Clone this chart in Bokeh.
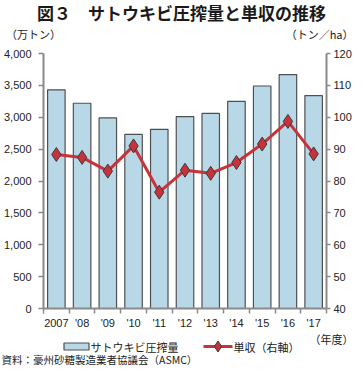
from bokeh.plotting import figure
from bokeh.layouts import column
from bokeh.models import (Range1d, LinearAxis, FixedTicker, NumeralTickFormatter, Label)
from bokeh.embed import file_html
from bokeh.resources import INLINE

years = ["2007", "'08", "'09", "'10", "'11", "'12", "'13", "'14", "'15", "'16", "'17"]
crush = [3430, 3220, 2990, 2730, 2810, 3010, 3060, 3250, 3490, 3670, 3340]   # 万トン
unit_yield = [88.3, 87.4, 83.1, 91.0, 76.5, 83.4, 82.4, 85.8, 91.6, 98.7, 88.5]  # トン/ha
left_ticks = list(range(0, 4001, 500))
right_ticks = list(range(40, 121, 10))

title_text = "図３　サトウキビ圧搾量と単収の推移"
bar_name = "サトウキビ圧搾量"
line_name = "単収（右軸）"
left_unit = "（万トン）"
right_unit = "（トン／ha）"
x_unit = "（年度）"
source_text = "資料：豪州砂糖製造業者協議会（ASMC）"

JP = "Noto Sans CJK JP"
NUM = "Liberation Sans"
AX = "#8a8a8a"
TXT = "#1a1a1a"
BAR_FILL = "#b8d8e7"
BAR_LINE = "#4f4f4f"
RED = "#c8333b"
MK_LINE = "#3a3a3a"
W = 354
TOP_H = 46
MAIN_H = 285
BOT_H = 367 - TOP_H - MAIN_H

n = len(years)
xs = [i + 0.5 for i in range(n)]


def blank(h):
    f = figure(width=W, height=h, x_range=Range1d(0, W), y_range=Range1d(0, h),
               output_backend="svg", toolbar_location=None,
               x_axis_location=None, y_axis_location=None,
               min_border=0, outline_line_color=None)
    f.xgrid.visible = False
    f.ygrid.visible = False
    if "frame_align" in f.properties():
        f.frame_align = False
    return f


def lab(fig, text, x, y, size="11px", bold=False, align="center"):
    fig.add_layout(Label(x=x, y=y, text=text, text_font=JP, text_font_size=size,
                         text_font_style="bold" if bold else "normal",
                         text_align=align, text_baseline="middle", text_color=TXT))


# ---------- header ----------
top = blank(TOP_H)
lab(top, title_text, 181, TOP_H - 12, size="17px", bold=True)
lab(top, left_unit, 33, TOP_H - 33)
lab(top, right_unit, 353, TOP_H - 33, align="right")

# ---------- main chart ----------
p = figure(width=W, height=MAIN_H, x_range=Range1d(0, n), y_range=Range1d(0, 4000),
           output_backend="svg", toolbar_location=None,
           min_border_left=40, min_border_right=22, min_border_top=7, min_border_bottom=0)
if "frame_align" in p.properties():
    p.frame_align = False
p.extra_y_ranges = {"r": Range1d(40, 120)}
p.outline_line_color = None
p.xgrid.visible = False
p.ygrid.visible = False

p.vbar(x=xs, top=crush, width=0.68, bottom=0, fill_color=BAR_FILL,
       line_color=BAR_LINE, line_width=1.2)
p.line(x=xs, y=unit_yield, y_range_name="r", line_color=RED, line_width=3)
p.scatter(x=xs, y=unit_yield, y_range_name="r", marker="diamond", size=14,
          fill_color=RED, line_color=MK_LINE, line_width=1)

xa = p.xaxis[0]
xa.ticker = FixedTicker(ticks=xs, minor_ticks=list(range(n + 1)))
xa.major_label_overrides = {x: t for x, t in zip(xs, years)}
xa.major_tick_out = 0
xa.major_tick_in = 0
xa.minor_tick_out = 5
xa.minor_tick_in = 0
xa.minor_tick_line_color = AX
xa.minor_tick_line_width = 1.5
xa.axis_line_color = AX
xa.axis_line_width = 2
xa.major_label_standoff = 3
xa.major_label_text_font = NUM
xa.major_label_text_font_size = "11px"
xa.major_label_text_color = "#222222"

ya = p.yaxis[0]
ya.ticker = FixedTicker(ticks=left_ticks, minor_ticks=[])
ya.formatter = NumeralTickFormatter(format="0,0")
ya.major_tick_out = 5
ya.major_tick_in = 0
ya.minor_tick_out = 0
ya.major_tick_line_color = AX
ya.major_tick_line_width = 1.5
ya.axis_line_color = AX
ya.axis_line_width = 2
ya.major_label_standoff = 7
ya.major_label_text_font = NUM
ya.major_label_text_font_size = "11px"
ya.major_label_text_color = "#222222"

ra = LinearAxis(y_range_name="r", ticker=FixedTicker(ticks=right_ticks, minor_ticks=[]))
ra.major_tick_out = 4
ra.major_tick_in = 0
ra.minor_tick_out = 0
ra.major_tick_line_color = AX
ra.major_tick_line_width = 1.5
ra.axis_line_color = AX
ra.axis_line_width = 2
ra.major_label_standoff = 3
ra.major_label_text_font = NUM
ra.major_label_text_font_size = "11px"
ra.major_label_text_color = "#222222"
p.add_layout(ra, "right")

# ---------- footer (x unit, legend keys, source) ----------
bot = blank(BOT_H)
lab(bot, x_unit, 353, BOT_H - 7, size="11px", align="right")
leg_y = BOT_H - 15
bot.rect(x=[76], y=[leg_y], width=25, height=7, fill_color=BAR_FILL,
         line_color=BAR_LINE, line_width=1.2)
lab(bot, bar_name, 90, leg_y, size="11px", align="left")
bot.line(x=[203, 232], y=[leg_y, leg_y], line_color=RED, line_width=3)
bot.scatter(x=[217.5], y=[leg_y], marker="diamond", size=11, fill_color=RED,
            line_color=MK_LINE, line_width=1)
lab(bot, line_name, 233, leg_y, size="11px", align="left")
lab(bot, source_text, 1, 8, size="10.5px", align="left")

layout = column(top, p, bot, spacing=0)
open("out.html", "w").write(file_html(layout, INLINE))
